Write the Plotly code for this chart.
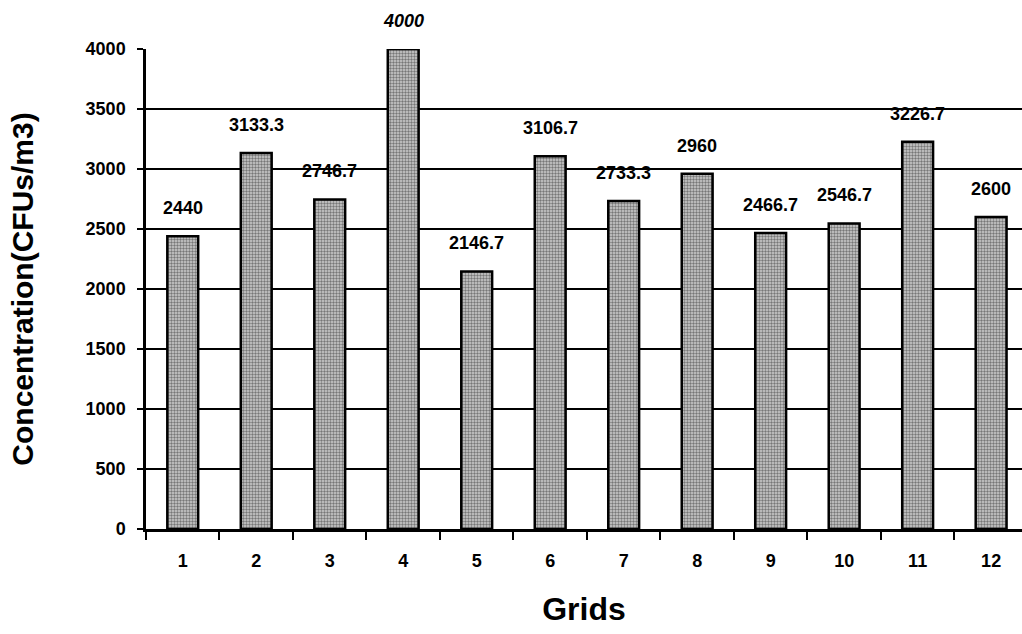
import plotly.graph_objects as go

# Airborne concentration per sampling grid
grids = ["1", "2", "3", "4", "5", "6", "7", "8", "9", "10", "11", "12"]
concentration = [2440, 3133.3, 2746.7, 4000, 2146.7, 3106.7,
                 2733.3, 2960, 2466.7, 2546.7, 3226.7, 2600]
y_ticks = [0, 500, 1000, 1500, 2000, 2500, 3000, 3500, 4000]

FONT = "Liberation Sans, Arial, sans-serif"

fig = go.Figure()
fig.add_trace(go.Bar(
    x=grids,
    y=concentration,
    marker=dict(
        color="#c0c0c0",
        line=dict(color="black", width=2.5),
        pattern=dict(shape=".", fgcolor="#202020", bgcolor="#cfcfcf",
                     size=3, solidity=0.5),
    ),
    showlegend=False,
    hoverinfo="x+y",
))

# Value labels above each bar (placed by category index); the peak is italic
peak = max(concentration)
for i, v in enumerate(concentration):
    fig.add_annotation(
        x=i, y=v, xref="x", yref="y", text=f"<b>{v:g}</b>", showarrow=False,
        yanchor="middle", yshift=28,
        font=dict(family=FONT, size=18, color="black",
                  style="italic" if v == peak else "normal"),
    )

fig.update_layout(
    width=1022, height=634,
    margin=dict(l=146, r=0, t=49, b=105),
    paper_bgcolor="white", plot_bgcolor="white",
    bargap=0.58,
    font=dict(family=FONT, color="black"),
)

fig.update_xaxes(
    type="category",
    range=[-0.5, 11.42],
    showgrid=False,
    showline=True, linecolor="black", linewidth=2.5,
    ticks="outside", tickson="boundaries", ticklen=8, tickwidth=2,
    tickcolor="black",
    tickfont=dict(family=FONT, size=18, weight="bold"),
    ticklabelstandoff=14,
    title=dict(text="Grids", standoff=28,
               font=dict(family=FONT, size=32, weight="bold")),
)

fig.update_yaxes(
    range=[0, 4000],
    tickvals=y_ticks,
    showgrid=True, gridcolor="black", gridwidth=2,
    showline=True, linecolor="black", linewidth=2.5,
    ticks="outside", ticklen=6, tickwidth=2, tickcolor="black",
    tickfont=dict(family=FONT, size=18, weight="bold"),
    ticklabelstandoff=8,
    zeroline=False,
    title=dict(text="Concentration(CFUs/m3)", standoff=44,
               font=dict(family=FONT, size=30, weight="bold")),
)

fig.write_html("out.html")
